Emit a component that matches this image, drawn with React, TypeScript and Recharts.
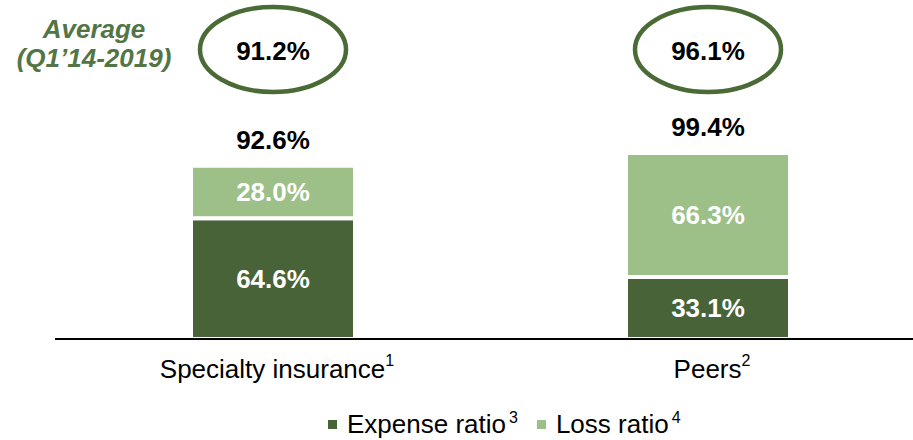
import { BarChart, Bar, XAxis, YAxis, Legend, LabelList } from 'recharts';

const FONT = '"Liberation Sans", Arial, sans-serif';
const DARK = '#486337';
const LIGHT = '#9dc088';
const OUTLINE = '#4a6a36';

// values
const categories = ['Specialty insurance', 'Peers'];
const categoryNotes = ['1', '2'];
const expenseRatio = [64.6, 33.1];
const lossRatio = [28.0, 66.3];
const averages = [91.2, 96.1];
const seriesNames = ['Expense ratio', 'Loss ratio'];
const seriesNotes = ['3', '4'];

const data = categories.map((name, i) => ({
  name,
  expense: expenseRatio[i],
  loss: lossRatio[i],
}));

const pct = (v: number) => `${v.toFixed(1)}%`;

const CategoryTick = (props: any) => {
  const { x, y, payload, index } = props;
  return (
    <text x={x + 4.5} y={y} dy={31} textAnchor="middle" fontSize={26} fontFamily={FONT} fill="#000">
      {payload.value}
      <tspan fontSize={16} dy={-12}>{categoryNotes[index]}</tspan>
    </text>
  );
};

const TotalLabel = (props: any) => {
  const { x, y, width, index } = props;
  const cx = x + width / 2;
  const total = expenseRatio[index] + lossRatio[index];
  return (
    <g fontFamily={FONT} fontWeight="bold" fontSize={26} fill="#000">
      <text x={cx} y={y - 16.7} textAnchor="middle">
        {pct(total)}
      </text>
      <ellipse cx={cx} cy={49.5} rx={73} ry={42.5} fill="none" stroke={OUTLINE} strokeWidth={4.5} />
      <text x={cx} y={60} textAnchor="middle">
        {pct(averages[index])}
      </text>
    </g>
  );
};

const LegendContent = () => (
  <div style={{ display: 'flex', alignItems: 'center', fontFamily: FONT, fontSize: 26, lineHeight: '30px', color: '#000' }}>
    {seriesNames.map((s, i) => (
      <div key={s} style={{ display: 'flex', alignItems: 'center', marginRight: i === 0 ? 19 : 0 }}>
        <span style={{ width: 9, height: 9, background: i === 0 ? DARK : LIGHT, marginRight: 10 }} />
        <span>{s}</span>
        <span style={{ fontSize: 16, marginLeft: 3, alignSelf: 'flex-start', lineHeight: '18px' }}>{seriesNotes[i]}</span>
      </div>
    ))}
  </div>
);

export default function App() {
  return (
    <div style={{ position: 'absolute', left: 0, top: 0, width: 913, height: 440, overflow: 'hidden', background: '#fff' }}>
      <div
        style={{
          position: 'absolute',
          left: 0,
          top: 15,
          width: 188,
          textAlign: 'center',
          fontFamily: FONT,
          fontStyle: 'italic',
          fontWeight: 'bold',
          fontSize: 26,
          lineHeight: '28.5px',
          color: '#537545',
        }}
      >
        Average
        <br />
        (Q1’14-2019)
      </div>
      <BarChart width={925} height={440} data={data} margin={{ top: 152, right: 0, left: 55, bottom: 61 }}>
        <YAxis hide domain={[0, 100]} />
        <Bar dataKey="expense" name={seriesNames[0]} stackId="a" fill={DARK} stroke="#fff" strokeWidth={4} barSize={164} isAnimationActive={false}>
          <LabelList dataKey="expense" position="center" formatter={(v: any) => pct(Number(v))} fill="#fff" fontSize={26} fontWeight="bold" fontFamily={FONT} />
        </Bar>
        <Bar dataKey="loss" name={seriesNames[1]} stackId="a" fill={LIGHT} stroke="#fff" strokeWidth={4} barSize={164} isAnimationActive={false}>
          <LabelList dataKey="loss" position="center" formatter={(v: any) => pct(Number(v))} fill="#fff" fontSize={26} fontWeight="bold" fontFamily={FONT} />
          <LabelList dataKey="loss" content={TotalLabel} />
        </Bar>
        <XAxis dataKey="name" height={40} interval={0} tickLine={false} axisLine={{ stroke: '#000', strokeWidth: 2 }} tick={CategoryTick} />
        <Legend
          verticalAlign="middle"
          align="center"
          content={LegendContent}
          wrapperStyle={{ top: 409, left: 328, width: 'auto' }}
        />
      </BarChart>
    </div>
  );
}
